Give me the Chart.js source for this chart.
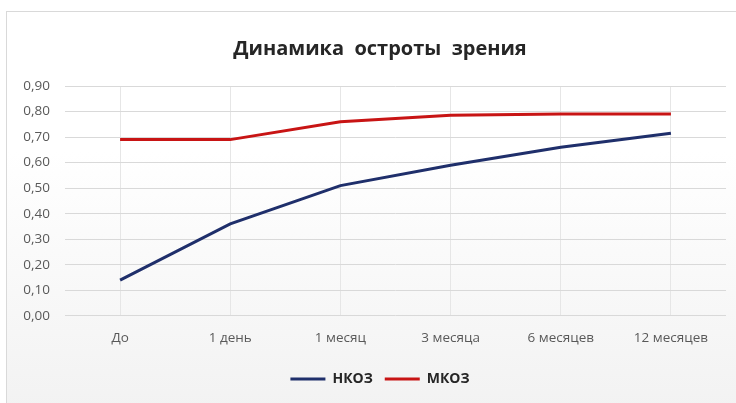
<!DOCTYPE html>
<html>
<head>
<meta charset="utf-8">
<script src="https://cdn.jsdelivr.net/npm/chart.js@4"></script>
<style>
  html, body { margin: 0; padding: 0; background: #fff; }
  #frame {
    position: absolute; left: 6px; top: 11px; width: 740px; height: 400px;
    border: 1px solid #d9d9d9;
    background: linear-gradient(to bottom, #ffffff 0%, #ffffff 35%, #f2f2f2 100%);
  }
  #wrap { position: absolute; left: 0; top: 0; width: 736px; height: 403px; }
</style>
</head>
<body>
<div id="frame"></div>
<div id="wrap"><canvas id="visionChart" width="736" height="403"></canvas></div>
<script>
// periods after surgery
const periods = ["До", "1 день", "1 месяц", "3 месяца", "6 месяцев", "12 месяцев"];
// uncorrected / corrected visual acuity
const nkoz = [0.14, 0.36, 0.51, 0.59, 0.66, 0.715];
const mkoz = [0.69, 0.69, 0.76, 0.785, 0.79, 0.79];
const yTicks = [0, 0.1, 0.2, 0.3, 0.4, 0.5, 0.6, 0.7, 0.8, 0.9];

const ctx = document.getElementById("visionChart").getContext("2d");
const font = "'Open Sans', 'Noto Sans', sans-serif";

// title and legend sit centred on the whole frame, a bit right of the canvas middle
const shiftHeader = {
  id: "shiftHeader",
  afterLayout(chart) {
    [chart.titleBlock, chart.legend].forEach(box => {
      if (!box) return;
      box.left += 7;
      box.right += 7;
    });
  }
};

new Chart(ctx, {
  type: "line",
  data: {
    labels: periods,
    datasets: [
      {
        label: "НКОЗ",
        data: nkoz,
        borderColor: "#1f2f6b",
        backgroundColor: "#1f2f6b",
        borderWidth: 3,
        pointRadius: 0,
        tension: 0
      },
      {
        label: "МКОЗ",
        data: mkoz,
        borderColor: "#c81414",
        backgroundColor: "#c81414",
        borderWidth: 3,
        pointRadius: 0,
        tension: 0
      }
    ]
  },
  plugins: [shiftHeader],
  options: {
    responsive: false,
    animation: false,
    layout: { padding: { left: 20, right: 10, top: 33, bottom: 7 } },
    plugins: {
      title: {
        display: true,
        text: "Динамика  остроты  зрения",
        color: "#262626",
        font: { family: font, size: 20, weight: "bold" },
        padding: { top: 4, bottom: 25 }
      },
      legend: {
        position: "bottom",
        labels: {
          boxWidth: 35,
          boxHeight: 3,
          color: "#262626",
          font: { family: font, size: 14, weight: "bold" },
          padding: 12,
          generateLabels: chart =>
            Chart.defaults.plugins.legend.labels.generateLabels(chart)
              .map(item => ({ ...item, lineWidth: 0 }))
        }
      },
      tooltip: { enabled: false }
    },
    scales: {
      x: {
        offset: true,
        grid: { offset: false, color: "#e6e6e6", drawTicks: false },
        border: { display: false },
        ticks: { color: "#595959", font: { family: font, size: 13.5 }, padding: 14 }
      },
      y: {
        min: 0,
        max: 0.9,
        afterBuildTicks: axis => { axis.ticks = yTicks.map(v => ({ value: v })); },
        afterFit: axis => { axis.width = 45; },
        grid: { color: "#d9d9d9", drawTicks: false },
        border: { display: false },
        ticks: {
          color: "#595959",
          font: { family: font, size: 13.5 },
          padding: 15,
          callback: v => v.toFixed(2).replace(".", ",")
        }
      }
    }
  }
});
</script>
</body>
</html>
